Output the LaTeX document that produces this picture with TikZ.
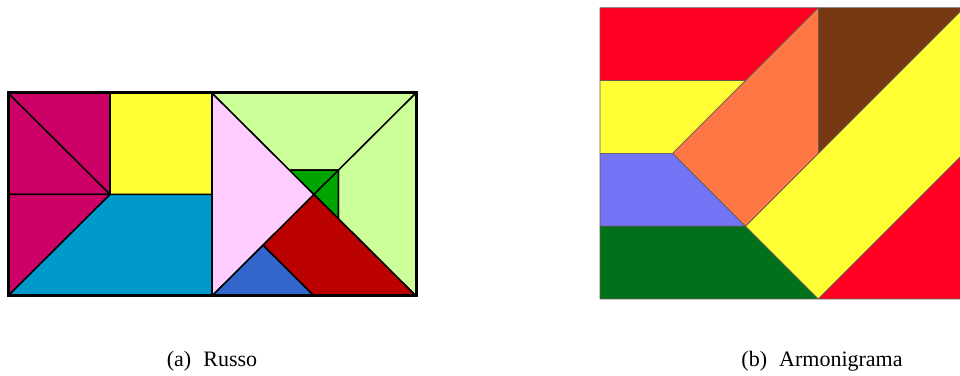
\documentclass[tikz,border=0pt]{standalone}
\usepackage{fontspec}
\setmainfont{Liberation Serif}
\definecolor{cMag}{RGB}{204,0,102}
\definecolor{cYel}{RGB}{255,255,51}
\definecolor{cCyan}{RGB}{0,153,204}
\definecolor{cLgreen}{RGB}{204,255,153}
\definecolor{cPink}{RGB}{255,204,255}
\definecolor{cDgreen}{RGB}{0,165,0}
\definecolor{cRed}{RGB}{187,0,0}
\definecolor{cBlue}{RGB}{51,102,204}
\definecolor{rRed}{RGB}{255,0,34}
\definecolor{rYel}{RGB}{255,255,51}
\definecolor{rBlue}{RGB}{115,115,245}
\definecolor{rGreen}{RGB}{0,112,26}
\definecolor{rOrange}{RGB}{255,119,68}
\definecolor{rBrown}{RGB}{119,56,17}
\definecolor{rEdge}{RGB}{100,90,80}
\tikzset{
  lpiece/.style={draw=black, line width=1.5bp, line join=round},
  rpiece/.style={draw=rEdge, line width=0.7bp, line join=round},
  capt/.style={anchor=base, inner sep=0pt, font=\fontsize{22bp}{26bp}\selectfont}
}
\begin{document}
\begin{tikzpicture}
\useasboundingbox (0,0) rectangle (960bp,376bp);
\clip (0,0) rectangle (960bp,376bp);
% ---------- (a) Russo ----------
\begin{scope}[shift={(8bp,80bp)}, x=204bp, y=203bp]
  \filldraw[lpiece, fill=cMag] (0,1) -- (0.5,1) -- (0.5,0.5) -- cycle;
  \filldraw[lpiece, fill=cMag] (0,1) -- (0,0.5) -- (0.5,0.5) -- cycle;
  \filldraw[lpiece, fill=cYel] (0.5,1) -- (1,1) -- (1,0.5) -- (0.5,0.5) -- cycle;
  \filldraw[lpiece, fill=cMag] (0,0.5) -- (0.5,0.5) -- (0,0) -- cycle;
  \filldraw[lpiece, fill=cCyan] (0.5,0.5) -- (1,0.5) -- (1,0) -- (0,0) -- cycle;
\end{scope}
\begin{scope}[shift={(212bp,80bp)}, x=204bp, y=203bp]
  \filldraw[lpiece, fill=cPink] (0,1) -- (0,0) -- (0.5,0.5) -- cycle;
  \filldraw[lpiece, fill=cLgreen] (0,1) -- (1,1) -- (0.62,0.62) -- (0.38,0.62) -- cycle;
  \filldraw[lpiece, fill=cLgreen] (1,1) -- (1,0) -- (0.62,0.38) -- (0.62,0.62) -- cycle;
  \filldraw[lpiece, fill=cDgreen] (0.38,0.62) -- (0.62,0.62) -- (0.5,0.5) -- cycle;
  \filldraw[lpiece, fill=cDgreen] (0.62,0.62) -- (0.62,0.38) -- (0.5,0.5) -- cycle;
  \filldraw[lpiece, fill=cRed] (0.5,0.5) -- (1,0) -- (0.5,0) -- (0.25,0.25) -- cycle;
  \filldraw[lpiece, fill=cBlue] (0,0) -- (0.25,0.25) -- (0.5,0) -- cycle;
\end{scope}
\draw[line width=3bp, line join=miter] (8bp,80bp) rectangle (416bp,283bp);
% ---------- (b) Armonigrama ----------
\begin{scope}[shift={(600bp,77bp)}, x=72.8bp, y=72.8bp]
  \filldraw[rpiece, fill=rRed] (0,4) -- (3,4) -- (2,3) -- (0,3) -- cycle;
  \filldraw[rpiece, fill=rYel] (0,3) -- (2,3) -- (1,2) -- (0,2) -- cycle;
  \filldraw[rpiece, fill=rBlue] (0,2) -- (1,2) -- (2,1) -- (0,1) -- cycle;
  \filldraw[rpiece, fill=rGreen] (0,1) -- (2,1) -- (3,0) -- (0,0) -- cycle;
  \filldraw[rpiece, fill=rOrange] (1,2) -- (3,4) -- (3,2) -- (2,1) -- cycle;
  \filldraw[rpiece, fill=rBrown] (3,4) -- (5,4) -- (3,2) -- cycle;
  \filldraw[rpiece, fill=rYel] (2,1) -- (3,2) -- (5,4) -- (5,2) -- (3,0) -- cycle;
  \filldraw[rpiece, fill=rRed] (3,0) -- (5,0) -- (5,2) -- cycle;
\end{scope}
% ---------- captions ----------
\node[capt] (capa) at (212bp,10bp) {(a)\hspace{0.55em}Russo};
\node[capt] (capb) at (822bp,10bp) {(b)\hspace{0.55em}Armonigrama};
\end{tikzpicture}
\end{document}
